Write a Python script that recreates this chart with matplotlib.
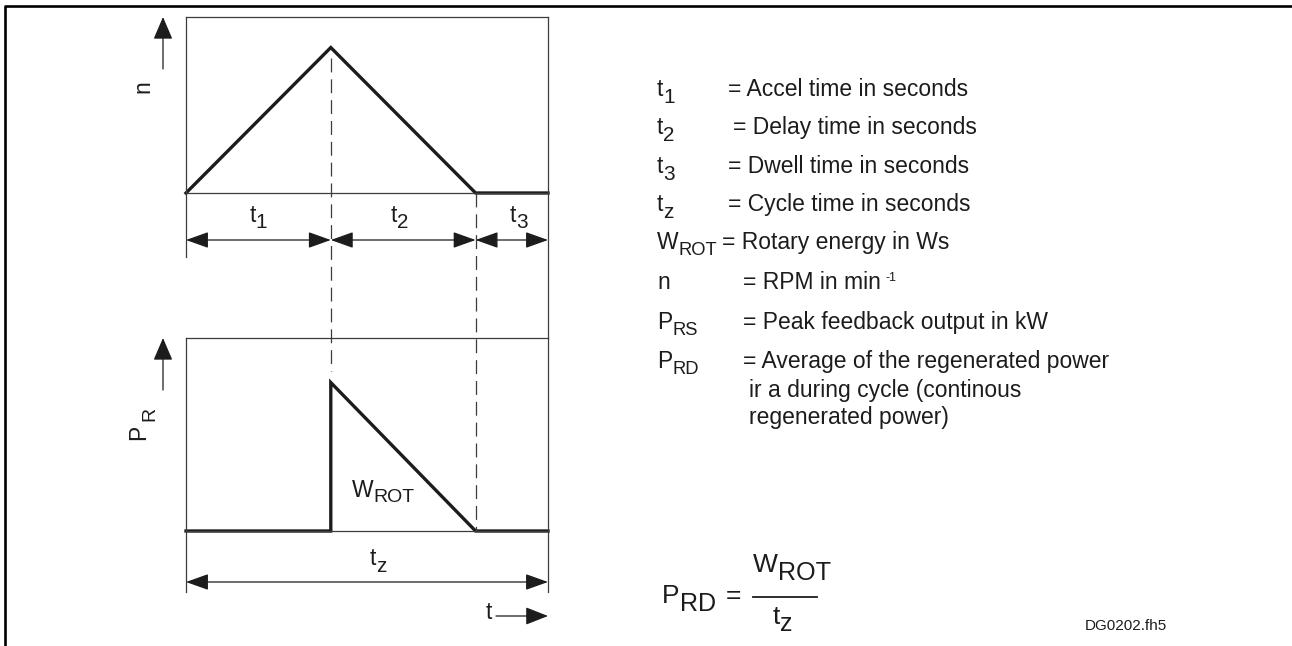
import numpy as np
import matplotlib.pyplot as plt
from matplotlib.patches import FancyArrowPatch

plt.rcParams['font.family'] = ['Liberation Sans', 'DejaVu Sans']
plt.rcParams['lines.scale_dashes'] = False

W, H = 1292, 646
INK = '#1c1c1c'
THIN = '#3c3c3c'
FS = 16.5

# cycle phases in seconds: accel, delay (braking), dwell
phase_subs = ['1', '2', '3']
phase_durations = [2.0, 2.0, 1.0]
phase_label_pos = [1.0, 2.95, 4.6]
n_peak = 1.0
pr_peak = 1.0

bounds = np.concatenate([[0.0], np.cumsum(phase_durations)])
t_cycle = bounds[-1]

# speed: ramp up, ramp down, stand still
n_t = [bounds[0], bounds[1], bounds[2], bounds[3]]
n_v = [0.0, n_peak, 0.0, 0.0]
# regenerated power: nothing while accelerating, peak at start of braking
pr_t = [bounds[0], bounds[1], bounds[1], bounds[2], bounds[3]]
pr_v = [0.0, 0.0, pr_peak, 0.0, 0.0]

legend_syms = [('t', '1'), ('t', '2'), ('t', '3'), ('t', 'z'),
               ('W', 'ROT'), ('n', ''), ('P', 'RS'), ('P', 'RD')]
legend_desc = ['= Accel time in seconds', '= Delay time in seconds',
               '= Dwell time in seconds', '= Cycle time in seconds',
               '= Rotary energy in Ws', '= RPM in min',
               '= Peak feedback output in kW',
               '= Average of the regenerated power']
legend_more = ['ir a during cycle (continous', 'regenerated power)']
legend_base = [96, 134, 173, 211, 249, 289, 329, 368]
legend_eq_x = [728, 733, 728, 728, 722, 743, 743, 743]

fig = plt.figure(figsize=(W / 100, H / 100), dpi=100)


def rect(left, top, right, bottom):
    return [left / W, 1 - bottom / H, (right - left) / W, (bottom - top) / H]


ax_n = fig.add_axes(rect(186, 17, 548, 193))
ax_p = fig.add_axes(rect(186, 338, 548, 531))
for ax, top in ((ax_n, 1.21 * n_peak), (ax_p, 1.3 * pr_peak)):
    ax.set_xlim(0, t_cycle)
    ax.set_ylim(0, top)
    ax.set_xticks([])
    ax.set_yticks([])
    for sp in ax.spines.values():
        sp.set_color(THIN)
        sp.set_linewidth(0.9)

ax_n.plot(n_t, n_v, color=INK, lw=2.4, clip_on=False, solid_joinstyle='miter')
ax_p.plot(pr_t, pr_v, color=INK, lw=2.4, clip_on=False, solid_joinstyle='miter')

ov = fig.add_axes([0, 0, 1, 1])
ov.set_xlim(0, W)
ov.set_ylim(H, 0)
ov.axis('off')
ov.patch.set_alpha(0)


def px(ax, t, v):
    X, Y = ax.transData.transform((t, v))
    return X, H - Y


def arrow(p0, p1, style='<|-|>', hl=14, hw=5):
    ov.add_patch(FancyArrowPatch(p0, p1, arrowstyle=f'{style},head_length={hl},head_width={hw}',
                                 mutation_scale=1, shrinkA=0, shrinkB=0,
                                 lw=0.9, color=INK))


def vline(x, y0, y1, dashed=False):
    ov.plot([x, x], [y0, y1], color=THIN, lw=0.9,
            dashes=(10, 5) if dashed else (None, None))


rend = fig.canvas.get_renderer()


def sub_text(x, y, base, sub, size=FS, ratio=0.9, drop=6, ha='left'):
    tb = ov.text(x, y, base, fontsize=size, color=INK, va='baseline', ha='left')
    ts = ov.text(x, y + drop, sub, fontsize=size * ratio, color=INK, va='baseline', ha='left')
    wb = tb.get_window_extent(rend).width
    ws = ts.get_window_extent(rend).width if sub else 0
    x0 = x - (wb + ws) / 2 if ha == 'center' else x
    tb.set_x(x0)
    ts.set_x(x0 + wb)
    return x0 + wb + ws


# outer frame
ov.plot([5, 5, W], [H, 5.5, 5.5], color='black', lw=1.9, solid_capstyle='butt')

# boundaries in pixel space
x_b = [px(ax_n, b, 0)[0] for b in bounds]
y_top_base = px(ax_n, 0, 0)[1]
y_top_peak = px(ax_n, bounds[1], n_peak)[1]
y_bot_top = px(ax_p, 0, ax_p.get_ylim()[1])[1]
y_bot_base = px(ax_p, 0, 0)[1]
y_jump = px(ax_p, bounds[1], pr_peak)[1]
y_dim1 = 240
y_dim2 = 582
y_ext1 = 257
y_ext2 = 592

# extension lines
vline(x_b[0], y_top_base, y_ext1)
vline(x_b[3], y_top_base, y_bot_top)
vline(x_b[0], y_bot_base, y_ext2)
vline(x_b[3], y_bot_base, y_ext2)
# phase boundaries carried down into the power plot
vline(x_b[1], y_top_peak + 10, y_jump - 12, dashed=True)
vline(x_b[2], y_top_base, y_bot_base, dashed=True)

# phase dimensions
for i in range(3):
    arrow((x_b[i], y_dim1), (x_b[i + 1], y_dim1))
    lx = px(ax_n, phase_label_pos[i], 0)[0]
    sub_text(lx, 222, 't', phase_subs[i], ha='center')

arrow((x_b[0], y_dim2), (x_b[3], y_dim2))
sub_text(px(ax_p, 2.65, 0)[0], 565, 't', 'z', drop=7, ha='center')

# axis arrows
arrow((163, 69), (163, 17), style='-|>', hl=14, hw=6)
ov.text(143, 87, 'n', fontsize=FS, color=INK, rotation=90, ha='center', va='center')
arrow((163, 390), (163, 338), style='-|>', hl=14, hw=6)
ov.text(138.5, 432, 'P', fontsize=FS, color=INK, rotation=90, ha='center', va='center')
ov.text(150, 414, 'R', fontsize=14, color=INK, rotation=90, ha='center', va='center')

arrow((496, 616), (548, 616), style='-|>', hl=14, hw=5.5)
ov.text(489, 619, 't', fontsize=FS, color=INK, ha='center', va='baseline')

sub_text(352, 497, 'W', 'ROT', ratio=0.85, drop=5)

# symbol legend
for (b, s), desc, yb, xe in zip(legend_syms, legend_desc, legend_base, legend_eq_x):
    sub_text(657, yb, b, s, ratio=0.9 if len(s) < 2 else 0.8, drop=7 if b == 't' else 6)
    t = ov.text(xe, yb, desc, fontsize=FS, color=INK, va='baseline')
    if desc.endswith('min'):
        w = t.get_window_extent(rend).width
        ov.text(xe + w + 5, yb - 8, '-1', fontsize=9, color=INK, va='baseline')
for i, line in enumerate(legend_more):
    ov.text(749, 397 + 27 * i, line, fontsize=FS, color=INK, va='baseline')

# average regenerated power
FF = 19
end = sub_text(662, 603, 'P', 'RD', size=FF, ratio=0.95, drop=8)
ov.text(end + 10, 603, '=', fontsize=FF, color=INK, va='baseline')
x_fr = end + 37
end_w = sub_text(x_fr, 572, 'W', 'ROT', size=FF, ratio=0.95, drop=8)
ov.plot([x_fr, end_w - 14], [597, 597], color=INK, lw=1.3)
sub_text(x_fr + 20, 624, 't', 'z', size=FF, ratio=0.95, drop=7)

ov.text(1085, 630, 'DG0202.fh5', fontsize=11, color=INK, va='baseline')

fig.savefig('out.png', dpi=100)
